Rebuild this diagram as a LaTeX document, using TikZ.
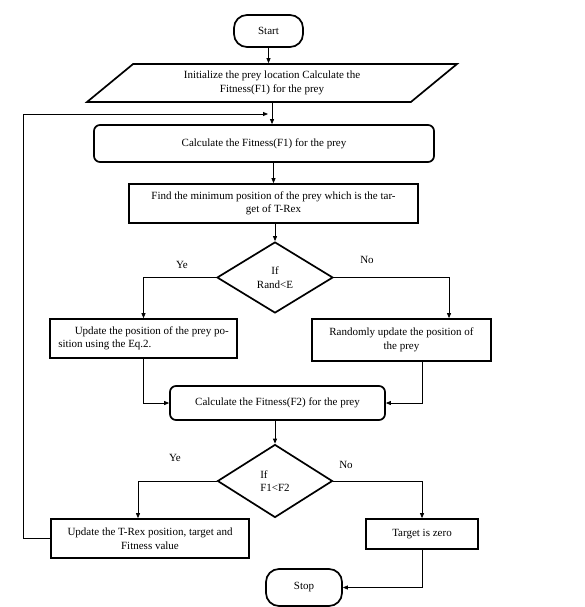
\documentclass[tikz,border=0pt]{standalone}
\usepackage{fontspec}
\setmainfont{Liberation Serif}
\usepackage{tikz}
\usetikzlibrary{arrows.meta,shapes.geometric}
\tikzset{
  ar/.style={-{Triangle[length=5pt,width=4pt]},line width=0.8pt},
  term/.style={draw,line width=1.7pt,rounded corners=13pt,inner sep=0pt},
  io/.style={draw,line width=1.7pt,trapezium,trapezium left angle=27,trapezium right angle=153,trapezium stretches body,align=center,inner sep=0pt},
  box/.style={draw,line width=1.7pt,align=center,inner sep=0pt},
  rbox/.style={box,rounded corners=6pt},
  dec/.style={draw,line width=1.7pt,diamond,align=center,inner sep=0pt},
  lbl/.style={inner sep=0pt}
}

\begin{document}
\begin{tikzpicture}[x=1pt,y=-1pt,font=\fontsize{11}{13.5}\selectfont]
\useasboundingbox (0,0) rectangle (585,607);
% main column
\node[term,minimum width=69pt,minimum height=32pt] (start) at (268.5,31) {Start};
\node[io,minimum width=370pt,minimum height=38pt] (init) at (272,83)
  {Initialize the prey location Calculate the\\Fitness(F1) for the prey};
\node[rbox,minimum width=340pt,minimum height=37pt] (calc1) at (264,143.5)
  {Calculate the Fitness(F1) for the prey};
\node[box,minimum width=289pt,minimum height=39pt] (find) at (273.5,203.5)
  {Find the minimum position of the prey which is the tar-\\get of T-Rex};
\node[dec,minimum width=116pt,minimum height=71pt] (dec1) at (275,277.5) {If\\Rand<E};
\node[box,minimum width=187pt,minimum height=39pt,align=left] (upd) at (143.5,338.5)
  {\hspace*{1.5em}Update the position of the prey po-\\sition using the Eq.2.};
\node[box,minimum width=179pt,minimum height=42pt] (rnd) at (401.5,340)
  {Randomly update the position of\\the prey};
\node[rbox,minimum width=215pt,minimum height=34pt] (calc2) at (277.5,403)
  {Calculate the Fitness(F2) for the prey};
\node[dec,minimum width=115pt,minimum height=73pt,align=left] (dec2) at (275,481) {If\\F1<F2};
\node[box,minimum width=198pt,minimum height=39pt] (trex) at (150,538.5)
  {Update the T-Rex position, target and\\Fitness value};
\node[box,minimum width=112pt,minimum height=30pt] (tgt) at (422,534) {Target is zero};
\node[term,minimum width=76pt,minimum height=37pt] (stop) at (304,587.5) {Stop};
% branch labels
\node[lbl] (ye1) at (182,265) {Ye};
\node[lbl] (no1) at (367,260) {No};
\node[lbl] (ye2) at (175,458) {Ye};
\node[lbl] (no2) at (346,465) {No};
% connectors
\coordinate (lp) at (23,114);
\coordinate (lpin) at (268,114);
\draw[ar] (start) -- (start |- init.north);
\draw[ar] (init.south) -- (init.south |- calc1.north);
\draw[ar] (find.north |- calc1.south) -- (find.north);
\draw[ar] (dec1.north |- find.south) -- (dec1.north);
\draw[ar] (dec1.west) -| (upd.north);
\draw[ar] (dec1.east) -| ([xshift=47.5pt]rnd.north);
\draw[ar] (upd.south) |- (calc2.west);
\draw[ar] ([xshift=20.5pt]rnd.south) |- (calc2.east);
\draw[ar] (dec2.north |- calc2.south) -- (dec2.north);
\draw[ar] (dec2.west) -| ([xshift=-12pt]trex.north);
\draw[ar] (dec2.east) -| (tgt.north);
\draw[ar] (tgt.south) |- (stop.east);
\draw[ar] (trex.west) -| (lp) -- (lpin);
\end{tikzpicture}
\end{document}
